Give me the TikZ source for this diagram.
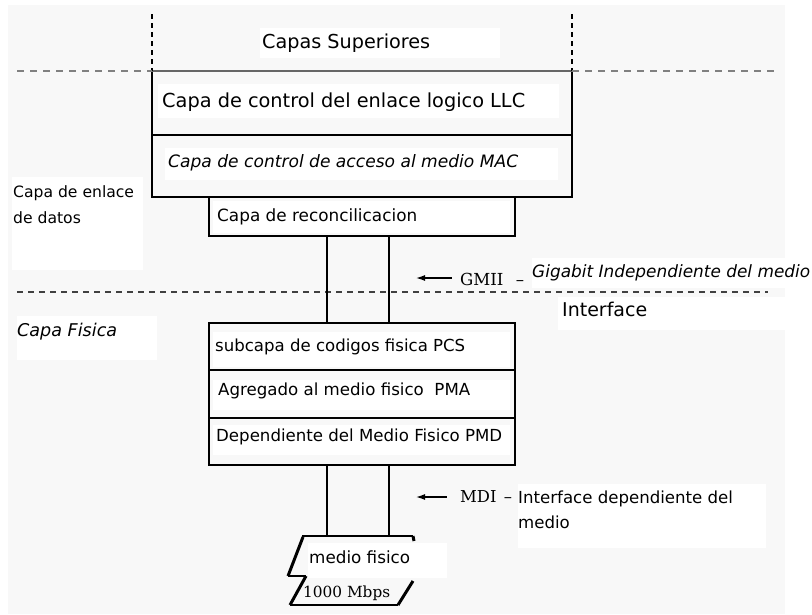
\documentclass[tikz,border=0pt]{standalone}
\usepackage{fontspec}
\usepackage{graphicx}
\newfontfamily\hand{DejaVu Sans}
\newfontfamily\serifface{DejaVu Serif}
\usetikzlibrary{arrows.meta}
\definecolor{bgcol}{RGB}{248,248,248}
% scale a piece of text to an exact width
\newcommand\fitw[2]{\resizebox{#1pt}{!}{#2}}

\begin{document}
\begin{tikzpicture}[x=1pt,y=-1pt,
  boxline/.style={draw=black,line width=1.3pt},
  lbl/.style={anchor=west,inner sep=0pt,font=\hand},
  ser/.style={anchor=west,inner sep=0pt,font=\serifface},
  patch/.style={fill=white,draw=none},
  topdash/.style={draw=black,line width=1.1pt,dash pattern=on 5pt off 4pt},
  hdash/.style={draw=black!50,line width=1.1pt,dash pattern=on 7pt off 6pt},
  mdash/.style={draw=black!75,line width=1.1pt,dash pattern=on 6pt off 5pt},
  wire/.style={draw=black,line width=1.2pt},
  thin/.style={draw=black,line width=1.3pt},
  thick/.style={draw=black,line width=3pt},
  arr/.style={draw=black,line width=1.3pt,{Latex[length=9pt,width=6pt]}-},
  layer/.style={inner sep=0pt,outer sep=0pt},
]
% canvas
\fill[white] (0,0) rectangle (812,614);
\fill[bgcol] (8,5) rectangle (785,614);
\useasboundingbox (0,0) rectangle (812,614);

% white backgrounds behind the labels
\fill[patch] (260,28) rectangle (500,58);
\fill[patch] (158,84) rectangle (559,118);
\fill[patch] (165,148) rectangle (558,180);
\fill[patch] (12,177) rectangle (143,270);
\fill[patch] (213,201) rectangle (510,233);
\fill[patch] (532,258) rectangle (812,288);
\fill[patch] (558,297) rectangle (785,330);
\fill[patch] (17,316) rectangle (157,360);
\fill[patch] (213,332) rectangle (510,367);
\fill[patch] (213,380) rectangle (510,410);
\fill[patch] (213,425) rectangle (510,455);
\fill[patch] (518,484) rectangle (766,548);
\fill[patch] (308,543) rectangle (447,578);

% layer boxes
\node[layer,minimum width=420pt,minimum height=64pt] (llc) at (362,103) {};
\node[layer,minimum width=420pt,minimum height=62pt] (mac) at (362,166) {};
\node[layer,boxline,minimum width=306pt,minimum height=39pt] (rec) at (362,216.5) {};
\node[layer,boxline,minimum width=306pt,minimum height=47pt] (pcs) at (362,346.5) {};
\node[layer,boxline,minimum width=306pt,minimum height=48pt] (pma) at (362,394) {};
\node[layer,boxline,minimum width=306pt,minimum height=47pt] (pmd) at (362,441.5) {};

\draw[boxline] (llc.north west) -- (mac.south west) -- (mac.south east) -- (llc.north east);
\draw[boxline] (llc.south west) -- (llc.south east);
\draw[draw=black!60,line width=1.1pt] (llc.north west) -- (llc.north east);

% dashed boundaries
\coordinate (tl) at (152,14);
\coordinate (tr) at (572,14);
\draw[topdash] (tl) -- (llc.north west);
\draw[topdash] (tr) -- (llc.north east);
\coordinate (hl) at (17,71);
\coordinate (hr) at (775,71);
\draw[hdash] (hl) -- (llc.north west);
\draw[hdash] (llc.north east) -- (hr);
\coordinate (ml) at (17,292);
\coordinate (mr) at (768,292);
\draw[mdash] (ml) -- (mr);

% interface wires
\coordinate (xa) at (327,0);
\coordinate (xb) at (389,0);
\coordinate (mtop) at (360,536);
\draw[wire] (rec.south -| xa) -- (pcs.north -| xa);
\draw[wire] (rec.south -| xb) -- (pcs.north -| xb);
\draw[wire] (pmd.south -| xa) -- (mtop -| xa);
\draw[wire] (pmd.south -| xb) -- (mtop -| xb);

% physical medium
\draw[thin] (302,536) -- (413,536);
\draw[thick] (413,536) -- (414,541);
\draw[thick] (303,537) -- (288,576);
\draw[thin] (288,576) -- (306,576);
\draw[thick] (306,576) -- (290,605);
\draw[thin] (290,605) -- (398,605);
\draw[thick] (398,605) -- (413,581);

% interface arrows
\coordinate (g1) at (416,278);
\coordinate (g2) at (452,278);
\draw[arr] (g1) -- (g2);
\coordinate (d1) at (416,497);
\coordinate (d2) at (447,497);
\draw[arr] (d1) -- (d2);

% labels
\node[lbl] (tsup) at (262,43) {\fitw{168}{Capas Superiores}};
\node[lbl] (tllc) at (162,102) {\fitw{363}{Capa de control del enlace logico LLC}};
\node[lbl] (tmac) at (168,163) {\fitw{350}{\itshape Capa de control de acceso al medio MAC}};
\node[lbl,align=left,font=\hand\fontsize{15.6}{26}\selectfont] (tdll) at (13,205) {Capa de enlace\\ de datos};
\node[lbl] (trec) at (217,217) {\fitw{200}{Capa de reconcilicacion}};
\node[ser] (tgmii) at (460,279) {\fitw{64}{GMII\hspace{0.75em}–}};
\node[lbl] (tgig) at (532,273) {\fitw{278}{\itshape Gigabit Independiente del medio}};
\node[lbl] (tint) at (562,309) {\fitw{85}{Interface}};
\node[lbl] (tfis) at (17,332) {\fitw{100}{\itshape Capa Fisica}};
\node[lbl] (tpcs) at (215,347) {\fitw{250}{subcapa de codigos fisica PCS}};
\node[lbl] (tpma) at (218,391) {\fitw{252}{Agregado al medio fisico\ \ PMA}};
\node[lbl] (tpmd) at (216,437) {\fitw{286}{Dependiente del Medio Fisico PMD}};
\node[ser] (tmdi) at (460,497) {\fitw{52}{MDI\hspace{0.45em}–}};
\node[lbl,align=left,font=\hand\fontsize{16.6}{25}\selectfont] (tmdd) at (518,509.5) {Interface dependiente del\\medio};
\node[lbl] (tmf) at (309,557) {\fitw{101}{medio fisico}};
\node[ser] (tmb) at (303,593) {\fitw{87}{1000 Mbps}};
\end{tikzpicture}
\end{document}
